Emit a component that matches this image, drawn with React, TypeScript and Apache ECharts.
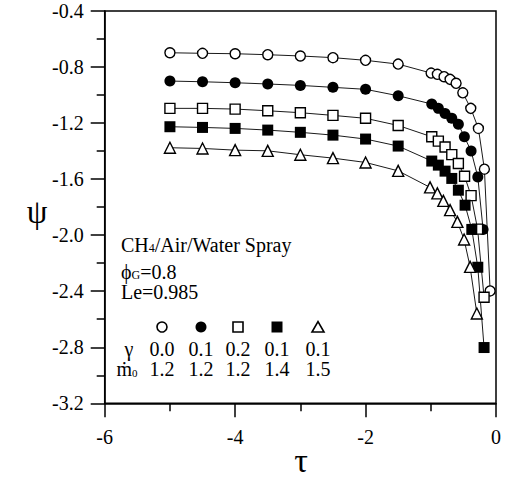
import React, { useEffect, useRef } from "react";
import * as echarts from "echarts";

const xTicks = [-6, -4, -2, 0];
const yTicks = [-3.2, -2.8, -2.4, -2.0, -1.6, -1.2, -0.8, -0.4];

const tauOpenCircle = [-5, -4.5, -4, -3.5, -3, -2.5, -2, -1.5, -0.995, -0.899, -0.796, -0.704, -0.612, -0.509, -0.387, -0.27, -0.178, -0.09];
const psiOpenCircle = [-0.698, -0.702, -0.705, -0.712, -0.721, -0.733, -0.752, -0.779, -0.843, -0.852, -0.869, -0.888, -0.916, -0.984, -1.095, -1.238, -1.529, -2.398];

const tauFilledCircle = [-5, -4.5, -4, -3.5, -3, -2.5, -2, -1.5, -0.985, -0.884, -0.781, -0.678, -0.577, -0.485, -0.382, -0.279, -0.198];
const psiFilledCircle = [-0.9, -0.905, -0.912, -0.921, -0.931, -0.945, -0.959, -1.005, -1.064, -1.095, -1.131, -1.166, -1.209, -1.298, -1.399, -1.584, -1.959];

const tauOpenSquare = [-5, -4.5, -4, -3.5, -3, -2.5, -2, -1.5, -0.985, -0.884, -0.781, -0.678, -0.577, -0.482, -0.382, -0.282, -0.183];
const psiOpenSquare = [-1.095, -1.095, -1.1, -1.112, -1.126, -1.145, -1.166, -1.217, -1.298, -1.329, -1.371, -1.425, -1.488, -1.579, -1.718, -1.957, -2.443];

const tauFilledSquare = [-5, -4.5, -4, -3.5, -3, -2.5, -2, -1.5, -0.985, -0.884, -0.781, -0.678, -0.577, -0.474, -0.371, -0.279, -0.183];
const psiFilledSquare = [-1.226, -1.231, -1.238, -1.25, -1.266, -1.286, -1.314, -1.364, -1.471, -1.5, -1.543, -1.595, -1.679, -1.786, -1.959, -2.229, -2.802];

const tauTriangle = [-5, -4.5, -4, -3.5, -3, -2.5, -2, -1.5, -1.011, -0.899, -0.807, -0.704, -0.592, -0.489, -0.397, -0.294];
const psiTriangle = [-1.376, -1.381, -1.393, -1.398, -1.426, -1.45, -1.481, -1.541, -1.659, -1.702, -1.755, -1.821, -1.905, -2.031, -2.226, -2.559];

const gammaValues = ["0.0", "0.1", "0.2", "0.1", "0.1"];
const mdotValues = ["1.2", "1.2", "1.2", "1.4", "1.5"];

const FONT = "Liberation Serif";

function pairs(xs: number[], ys: number[]) {
  return xs.map((x, i) => [x, ys[i]]);
}

export default function App() {
  const ref = useRef<HTMLDivElement>(null);
  useEffect(() => {
    if (!ref.current) return;
    const chart = echarts.init(ref.current, null, { renderer: "svg" });

    const mkSeries = (name: string, data: number[][], symbol: string, filled: boolean, size: number) => ({
      name,
      type: "line",
      data,
      symbol,
      symbolSize: size,
      showSymbol: true,
      lineStyle: { color: "#000", width: 0.9 },
      itemStyle: filled
        ? { color: "#000", borderColor: "#000", borderWidth: 0 }
        : { color: "#fff", borderColor: "#000", borderWidth: 1.4 },
      z: 3,
    });

    const legendXs = [162, 201, 238, 277, 318];
    const legendSymbols: any[] = [
      { type: "circle", shape: { cx: legendXs[0], cy: 327, r: 5 }, style: { fill: "#fff", stroke: "#000", lineWidth: 1.6 } },
      { type: "circle", shape: { cx: legendXs[1], cy: 327, r: 5.5 }, style: { fill: "#000" } },
      { type: "rect", shape: { x: legendXs[2] - 5, y: 322, width: 10, height: 10 }, style: { fill: "#fff", stroke: "#000", lineWidth: 1.6 } },
      { type: "rect", shape: { x: legendXs[3] - 5.5, y: 321.5, width: 11, height: 11 }, style: { fill: "#000" } },
      { type: "polygon", shape: { points: [[legendXs[4] - 6, 332], [legendXs[4] + 6, 332], [legendXs[4], 321.5]] }, style: { fill: "#fff", stroke: "#000", lineWidth: 1.6 } },
    ];

    const txt = (x: number, y: number, text: string, size: number, align: string, rich?: any, lh?: number) => ({
      type: "text",
      x,
      y,
      style: {
        text,
        fill: "#000",
        fontSize: size,
        fontFamily: FONT,
        align,
        verticalAlign: "middle",
        lineHeight: lh ?? 18,
        ...(rich ? { rich } : {}),
      },
    });

    const sub = (size: number) => ({ s: { fontSize: size, fontFamily: FONT, lineHeight: 18, verticalAlign: "bottom" } });

    const graphics: any[] = [
      ...legendSymbols,
      txt(121, 245, "CH{s|4}/Air/Water Spray", 20, "left", sub(12)),
      txt(121, 272, "ϕ{s|G}=0.8", 20, "left", sub(12)),
      txt(121, 292, "Le=0.985", 20, "left"),
      txt(129, 349, "γ", 20, "center"),
      txt(127, 369, "ṁ{s|0}", 20, "center", sub(11)),
      ...gammaValues.map((g, i) => txt(legendXs[i], 349, g, 20, "center")),
      ...mdotValues.map((m, i) => txt(legendXs[i], 369, m, 20, "center")),
      txt(37, 212, "ψ", 33, "center", undefined, 34),
      txt(301, 460, "τ", 34, "center", undefined, 34),
    ];

    chart.setOption({
      animation: false,
      backgroundColor: "#fff",
      textStyle: { fontFamily: FONT },
      grid: {
        left: 104.7,
        right: 10,
        top: 11,
        bottom: 74.7,
        show: true,
        borderColor: "#000",
        borderWidth: 1.5,
        backgroundColor: "transparent",
      },
      xAxis: {
        type: "value",
        min: -6,
        max: 0,
        interval: 2,
        axisLine: { show: true, onZero: false, lineStyle: { color: "#000", width: 1.5 } },
        axisTick: { show: true, inside: false, length: 14, lineStyle: { color: "#000", width: 1.5 } },
        minorTick: { show: true, splitNumber: 2, length: 8, lineStyle: { color: "#000", width: 1.5 } },
        splitLine: { show: false },
        axisLabel: {
          color: "#000",
          fontFamily: FONT,
          fontSize: 20,
          margin: 24,
          formatter: (v: number) => (xTicks.includes(v) ? String(v) : ""),
        },
      },
      yAxis: {
        type: "value",
        min: -3.2,
        max: -0.4,
        interval: 0.4,
        axisLine: { show: true, onZero: false, lineStyle: { color: "#000", width: 1.5 } },
        axisTick: { show: true, inside: false, length: 14, lineStyle: { color: "#000", width: 1.5 } },
        minorTick: { show: true, splitNumber: 2, length: 8, lineStyle: { color: "#000", width: 1.5 } },
        splitLine: { show: false },
        axisLabel: {
          color: "#000",
          fontFamily: FONT,
          fontSize: 20,
          margin: 21,
          formatter: (v: number) => {
            const t = yTicks.find((y) => Math.abs(y - v) < 1e-6);
            return t === undefined ? "" : t.toFixed(1);
          },
        },
      },
      series: [
        mkSeries("open circle", pairs(tauOpenCircle, psiOpenCircle), "circle", false, 10),
        mkSeries("filled circle", pairs(tauFilledCircle, psiFilledCircle), "circle", true, 11),
        mkSeries("open square", pairs(tauOpenSquare, psiOpenSquare), "rect", false, 10),
        mkSeries("filled square", pairs(tauFilledSquare, psiFilledSquare), "rect", true, 11),
        mkSeries("triangle", pairs(tauTriangle, psiTriangle), "triangle", false, 11),
      ],
      graphic: graphics,
    });

    return () => chart.dispose();
  }, []);

  return (
    <div
      ref={ref}
      style={{ position: "absolute", left: 0, top: 0, width: 506, height: 478, background: "#fff" }}
    />
  );
}
